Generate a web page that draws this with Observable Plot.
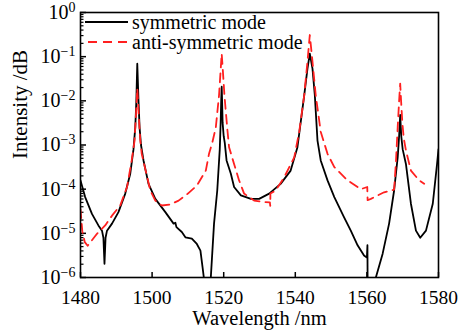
<!DOCTYPE html>
<html>
<head>
<meta charset="utf-8">
<script src="https://cdn.jsdelivr.net/npm/d3@7"></script>
<script src="https://cdn.jsdelivr.net/npm/@observablehq/plot@0.6"></script>
<style>
  body { margin: 0; background: white; }
  #wrap { position: relative; width: 476px; height: 333px; font-family: "Liberation Serif", serif; }
  #legend { position: absolute; left: 85px; top: 12px; font-size: 20px; line-height: 20px; color: black; }
  .row { display: flex; align-items: center; height: 20px; }
  .row svg { display: block; margin-right: 3px; }
</style>
</head>
<body>
<div id="wrap">
  <div id="chart"></div>
  <div id="legend"></div>
</div>
<script>
// ---- data ----
const seriesNames = ["symmetric mode", "anti-symmetric mode"];
const seriesColors = ["#000000", "#ff2020"];

const symWavelength = [
  1480.0, 1481.3, 1483.2, 1485.0, 1486.0, 1486.4, 1486.7, 1487.0, 1487.4, 1488.8,
  1490.6, 1492.5, 1493.9, 1494.8, 1495.3, 1495.6, 1495.75, 1495.86, 1496.0, 1496.2,
  1496.5, 1496.9, 1497.6, 1499.0, 1500.9, 1503.7, 1506.0, 1506.5, 1506.8, 1508.3,
  1509.3, 1511.1, 1512.5, 1513.5, 1514.1, 1514.6, 1515.5, 1516.4, 1517.3, 1518.2,
  1518.9, 1519.15, 1519.3, 1519.44, 1519.55, 1519.7, 1520.0, 1520.3, 1520.8, 1522.0,
  1522.9, 1524.8, 1527.6, 1529.9, 1532.7, 1535.9, 1538.7, 1540.6, 1542.5, 1543.4,
  1544.05, 1544.8, 1545.45, 1546.2, 1547.1, 1549.0, 1550.9, 1553.6, 1555.5, 1557.4,
  1559.2, 1560.0, 1560.15, 1560.25, 1561.5, 1562.5, 1564.4, 1566.2, 1567.6, 1568.6,
  1569.0, 1569.3, 1569.6, 1570.0, 1570.9, 1572.3, 1573.7, 1574.9, 1576.5, 1578.4,
  1579.6, 1580.0
];
const symIntensity = [
  1.58e-4, 6.61e-5, 2.75e-5, 1.51e-5, 1.15e-5, 7.94e-6, 2.04e-6, 7.94e-6, 1.15e-5, 1.66e-5,
  3.02e-5, 7.94e-5, 2.24e-4, 7.94e-4, 2.51e-3, 1.0e-2, 3.16e-2, 6.92e-2, 3.16e-2, 1.0e-2,
  2.51e-3, 1.0e-3, 4.47e-4, 1.32e-4, 6.03e-5, 3.02e-5, 1.66e-5, 1.74e-5, 1.38e-5, 1.07e-5,
  8.13e-6, 7.59e-6, 5.75e-6, 4.07e-6, 1.70e-6, 7.94e-7, 1.0e-7, 1.0e-6, 1.66e-5, 9.33e-5,
  7.94e-4, 3.16e-3, 1.0e-2, 2.09e-2, 1.0e-2, 3.16e-3, 1.58e-3, 1.12e-3, 4.47e-4, 2.24e-4,
  1.12e-4, 7.24e-5, 6.03e-5, 6.03e-5, 7.94e-5, 1.32e-4, 2.63e-4, 8.91e-4, 1.35e-2, 5.37e-2,
  1.17e-1, 5.37e-2, 1.35e-2, 1.26e-3, 4.47e-4, 1.58e-4, 6.61e-5, 2.34e-5, 1.15e-5, 5.37e-6,
  3.16e-6, 2.82e-6, 5.37e-6, 1.0e-7, 1.0e-7, 1.0e-6, 3.47e-6, 1.66e-5, 9.33e-5, 5.25e-4,
  1.58e-3, 4.79e-3, 1.58e-3, 7.94e-4, 3.72e-4, 4.68e-5, 1.15e-5, 7.94e-6, 1.15e-5, 4.68e-5,
  3.72e-4, 7.94e-4
];

const antiWavelength = [
  1480.0, 1480.5, 1481.2, 1482.0, 1484.6, 1486.9, 1488.8, 1491.1, 1493.0, 1494.3,
  1495.1, 1495.5, 1495.86, 1496.25, 1496.7, 1497.1, 1499.5, 1500.9, 1502.7, 1505.0,
  1507.4, 1510.0, 1512.5, 1515.0, 1515.9, 1516.8, 1517.8, 1518.7, 1519.15, 1519.44,
  1519.75, 1520.2, 1521.0, 1521.5, 1522.9, 1524.3, 1525.7, 1528.5, 1531.3, 1532.9,
  1533.0, 1533.05, 1534.5, 1536.9, 1539.7, 1541.1, 1542.5, 1543.4, 1544.05, 1544.8,
  1545.7, 1547.1, 1549.0, 1550.9, 1554.6, 1558.3, 1560.1, 1560.2, 1561.1, 1564.8,
  1567.6, 1568.1, 1568.6, 1569.0, 1569.3, 1569.55, 1569.9, 1570.3, 1570.9, 1572.3,
  1574.6, 1576.0
];
const antiIntensity = [
  3.55e-5, 1.12e-5, 6.31e-6, 5.25e-6, 9.77e-6, 1.51e-5, 2.51e-5, 4.27e-5, 1.12e-4, 4.47e-4,
  1.26e-3, 5.01e-3, 1.91e-2, 5.01e-3, 1.26e-3, 6.31e-4, 9.33e-5, 5.50e-5, 4.27e-5, 4.47e-5,
  5.50e-5, 7.94e-5, 1.20e-4, 2.63e-4, 6.31e-4, 1.12e-3, 2.51e-3, 1.35e-2, 5.01e-2, 1.17e-1,
  5.01e-2, 1.35e-2, 2.34e-3, 8.91e-4, 3.72e-4, 1.58e-4, 7.94e-5, 5.50e-5, 5.13e-5, 5.01e-5,
  4.17e-5, 7.94e-5, 9.33e-5, 1.86e-4, 5.25e-4, 2.0e-3, 1.35e-2, 7.76e-2, 3.09e-1, 7.76e-2,
  1.35e-2, 2.0e-3, 6.31e-4, 3.16e-4, 1.58e-4, 1.0e-4, 1.12e-4, 5.62e-5, 6.03e-5, 8.51e-5,
  9.77e-5, 3.98e-4, 2.51e-3, 1.0e-2, 2.45e-2, 1.0e-2, 3.16e-3, 1.41e-3, 7.59e-4, 2.63e-4,
  1.58e-4, 1.32e-4
];

const xTicks = [1480, 1500, 1520, 1540, 1560, 1580];
const yMajorTicks = [1e-6, 1e-5, 1e-4, 1e-3, 1e-2, 1e-1, 1];
const yTickExponents = ["\u22126", "\u22125", "\u22124", "\u22123", "\u22122", "\u22121", "0"];
const yMinorMultipliers = [2, 3, 4, 5, 6, 7, 8, 9];
const xLabel = "Wavelength /nm";
const yLabel = "Intensity /dB";

// ---- build tables ----
const sym = symWavelength.map((w, i) => ({w, v: symIntensity[i]}));
const anti = antiWavelength.map((w, i) => ({w, v: antiIntensity[i]}));
const yMinorTicks = [];
for (const d of yMajorTicks.slice(0, -1)) for (const m of yMinorMultipliers) yMinorTicks.push(d * m);

const chart = Plot.plot({
  width: 476,
  height: 333,
  marginLeft: 80,
  marginRight: 38,
  marginTop: 12,
  marginBottom: 56,
  x: {domain: [1480, 1580]},
  y: {type: "log", domain: [1e-6, 1]},
  style: {fontFamily: "'Liberation Serif', serif", fontSize: "20px", color: "black", background: "white", overflow: "visible"},
  marks: [
    Plot.axisY({ticks: yMinorTicks, tickSize: -3.5, tickFormat: () => "", label: null, strokeWidth: 1.2}),
    Plot.axisY({ticks: yMajorTicks, tickSize: -6, tickPadding: 11, strokeWidth: 1.5,
      tickFormat: d => "10^" + yTickExponents[yMajorTicks.indexOf(d)],
      fontSize: 20, label: null}),
    Plot.axisX({ticks: xTicks, tickSize: -5, tickPadding: 18, strokeWidth: 1.5,
      tickFormat: d => String(d), fontSize: 19.5, label: null}),
    Plot.text([yLabel], {frameAnchor: "left", rotate: -90, dx: -60, dy: 14, fontSize: 21}),
    Plot.text([xLabel], {frameAnchor: "bottom", dy: 47, fontSize: 20.5}),
    Plot.line(sym, {x: "w", y: "v", stroke: seriesColors[0], strokeWidth: 1.8, clip: true}),
    Plot.line(anti, {x: "w", y: "v", stroke: seriesColors[1], strokeWidth: 1.8, strokeDasharray: "9,6", clip: true}),
    Plot.frame({stroke: "black", strokeWidth: 1.6})
  ]
});
document.getElementById("chart").appendChild(chart);

// superscript exponents on the y tick labels
const svgns = "http://www.w3.org/2000/svg";
chart.querySelectorAll('g[aria-label="y-axis tick label"] text').forEach(t => {
  const s = t.textContent;
  if (!s.includes("^")) return;
  const [base, exp] = s.split("^");
  t.textContent = base;
  const ts = document.createElementNS(svgns, "tspan");
  ts.setAttribute("dy", "-7");
  ts.setAttribute("font-size", "14");
  ts.textContent = exp;
  t.appendChild(ts);
});

// legend
const legend = document.getElementById("legend");
seriesNames.forEach((name, i) => {
  const row = document.createElement("div");
  row.className = "row";
  const dash = i === 1 ? ' stroke-dasharray="9,6"' : "";
  const x1 = i === 1 ? 3 : 0;
  row.innerHTML = `<svg width="44" height="20"><line x1="${x1}" y1="10" x2="43" y2="10" stroke="${seriesColors[i]}" stroke-width="1.8"${dash}/></svg><span>${name}</span>`;
  legend.appendChild(row);
});
</script>
</body>
</html>
